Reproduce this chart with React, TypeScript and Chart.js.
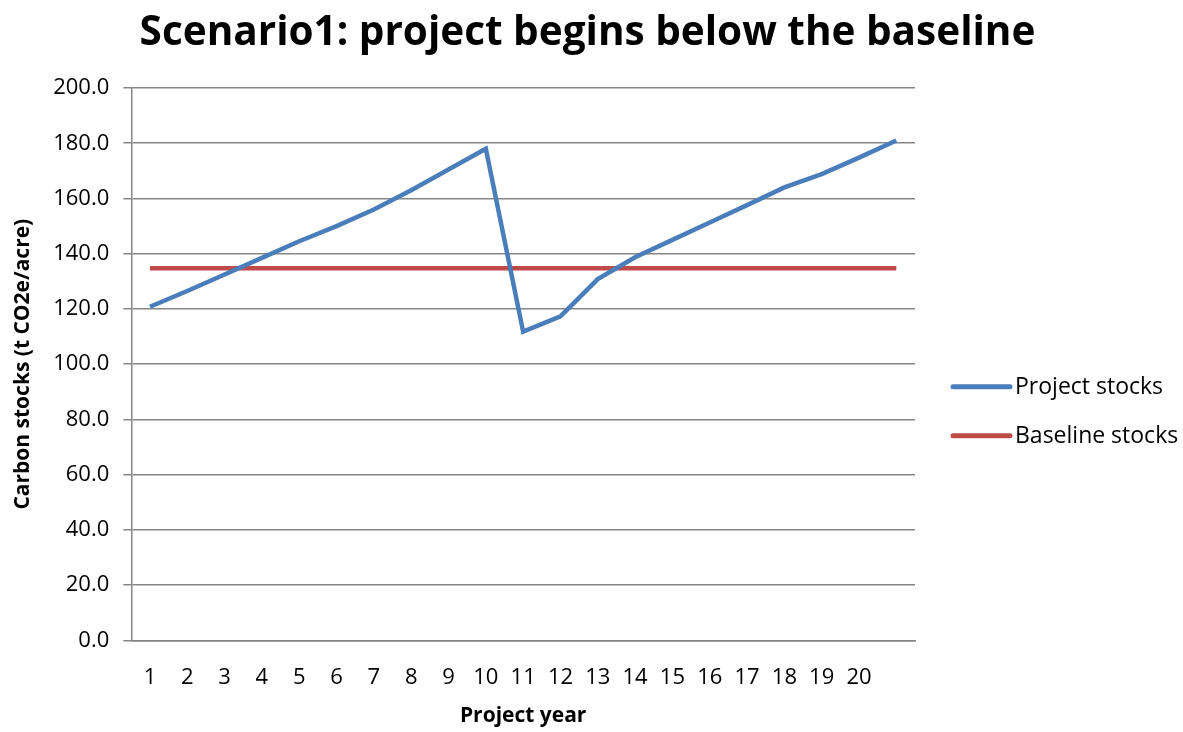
import React, { useEffect, useRef } from "react";
import { Chart, registerables } from "chart.js";

Chart.register(...registerables);

const years = ["1","2","3","4","5","6","7","8","9","10","11","12","13","14","15","16","17","18","19","20",""];
const projectStocks = [120.8,126.5,132.5,138.5,144.5,150.0,156.0,163.0,170.5,178.0,111.8,117.3,130.8,138.7,145.0,151.3,157.6,164.0,168.8,174.8,181.0];
const baselineStocks = [134.7,134.7,134.7,134.7,134.7,134.7,134.7,134.7,134.7,134.7,134.7,134.7,134.7,134.7,134.7,134.7,134.7,134.7,134.7,134.7,134.7];
const seriesNames = ["Project stocks", "Baseline stocks"];
const seriesColors = ["#4a7ebb", "#be4b48"];
const titleText = "Scenario1: project begins below the baseline";
const yTitle = "Carbon stocks (t CO2e/acre)";
const xTitle = "Project year";

const FONT = "'Open Sans', Lato, sans-serif";

const sideLegend = {
  id: "sideLegend",
  afterDraw(chart: any) {
    const { ctx, chartArea, width } = chart;
    ctx.save();
    // chart title, centred on the whole canvas
    ctx.fillStyle = "#000";
    ctx.font = `bold 40.5px ${FONT}`;
    ctx.textAlign = "center";
    ctx.textBaseline = "middle";
    ctx.fillText(titleText, width / 2 - 4, 33);
    // legend on the right
    const mid = (chartArea.top + chartArea.bottom) / 2 + 48;
    const gap = 49;
    const x0 = chartArea.right + 38;
    chart.data.datasets.forEach((d: any, i: number) => {
      const y = mid + (i - (chart.data.datasets.length - 1) / 2) * gap;
      ctx.strokeStyle = d.borderColor;
      ctx.lineWidth = 5;
      ctx.lineCap = "round";
      ctx.beginPath();
      ctx.moveTo(x0, y - 1);
      ctx.lineTo(x0 + 57, y - 1);
      ctx.stroke();
      ctx.fillStyle = "#000";
      ctx.font = `23px ${FONT}`;
      ctx.textBaseline = "middle";
      ctx.textAlign = "left";
      ctx.fillText(d.label, x0 + 62, y);
    });
    ctx.restore();
  },
};

export default function App() {
  const ref = useRef<HTMLCanvasElement | null>(null);
  useEffect(() => {
    document.body.style.margin = "0";
    const ctx = ref.current!;
    const chart = new Chart(ctx, {
      type: "line",
      data: {
        labels: years,
        datasets: [
          {
            label: seriesNames[0],
            data: projectStocks,
            borderColor: seriesColors[0],
            backgroundColor: seriesColors[0],
            borderWidth: 4.5,
            pointRadius: 0,
            tension: 0,
          },
          {
            label: seriesNames[1],
            data: baselineStocks,
            borderColor: seriesColors[1],
            backgroundColor: seriesColors[1],
            borderWidth: 4.5,
            pointRadius: 0,
            tension: 0,
          },
        ],
      },
      plugins: [sideLegend],
      options: {
        animation: false,
        responsive: false,
        maintainAspectRatio: false,
        layout: { padding: { left: 2, right: 268, top: 88, bottom: 0 } },
        plugins: {
          title: { display: false },
          tooltip: { enabled: false },
          legend: { display: false },
        },
        scales: {
          x: {
            offset: true,
            grid: { display: false, drawTicks: false },
            border: { display: true, color: "#868686", width: 1.5 },
            ticks: {
              color: "#000",
              font: { family: FONT, size: 22 },
              padding: 24,
              maxRotation: 0,
              autoSkip: false,
            },
            title: {
              display: true,
              text: xTitle,
              color: "#000",
              font: { family: FONT, size: 21, weight: "bold" },
              padding: { top: -11, bottom: 3 },
            },
          },
          y: {
            min: 0,
            max: 200,
            ticks: {
              stepSize: 20,
              color: "#000",
              font: { family: FONT, size: 22 },
              padding: 14,
              callback: (v: any) => Number(v).toFixed(1),
            },
            grid: { color: "#868686", lineWidth: 1.5, tickLength: 8, drawTicks: true },
            border: { display: true, color: "#868686", width: 1.5 },
            title: {
              display: true,
              text: yTitle,
              color: "#000",
              font: { family: FONT, size: 21, weight: "bold" },
              padding: { top: 8, bottom: 4 },
            },
          },
        },
      },
    });
    return () => chart.destroy();
  }, []);
  return (
    <div style={{ position: "fixed", left: 0, top: 0, width: 1183, height: 732, background: "#fff" }}>
      <canvas ref={ref} width={1183} height={732} style={{ width: 1183, height: 732 }} />
    </div>
  );
}
